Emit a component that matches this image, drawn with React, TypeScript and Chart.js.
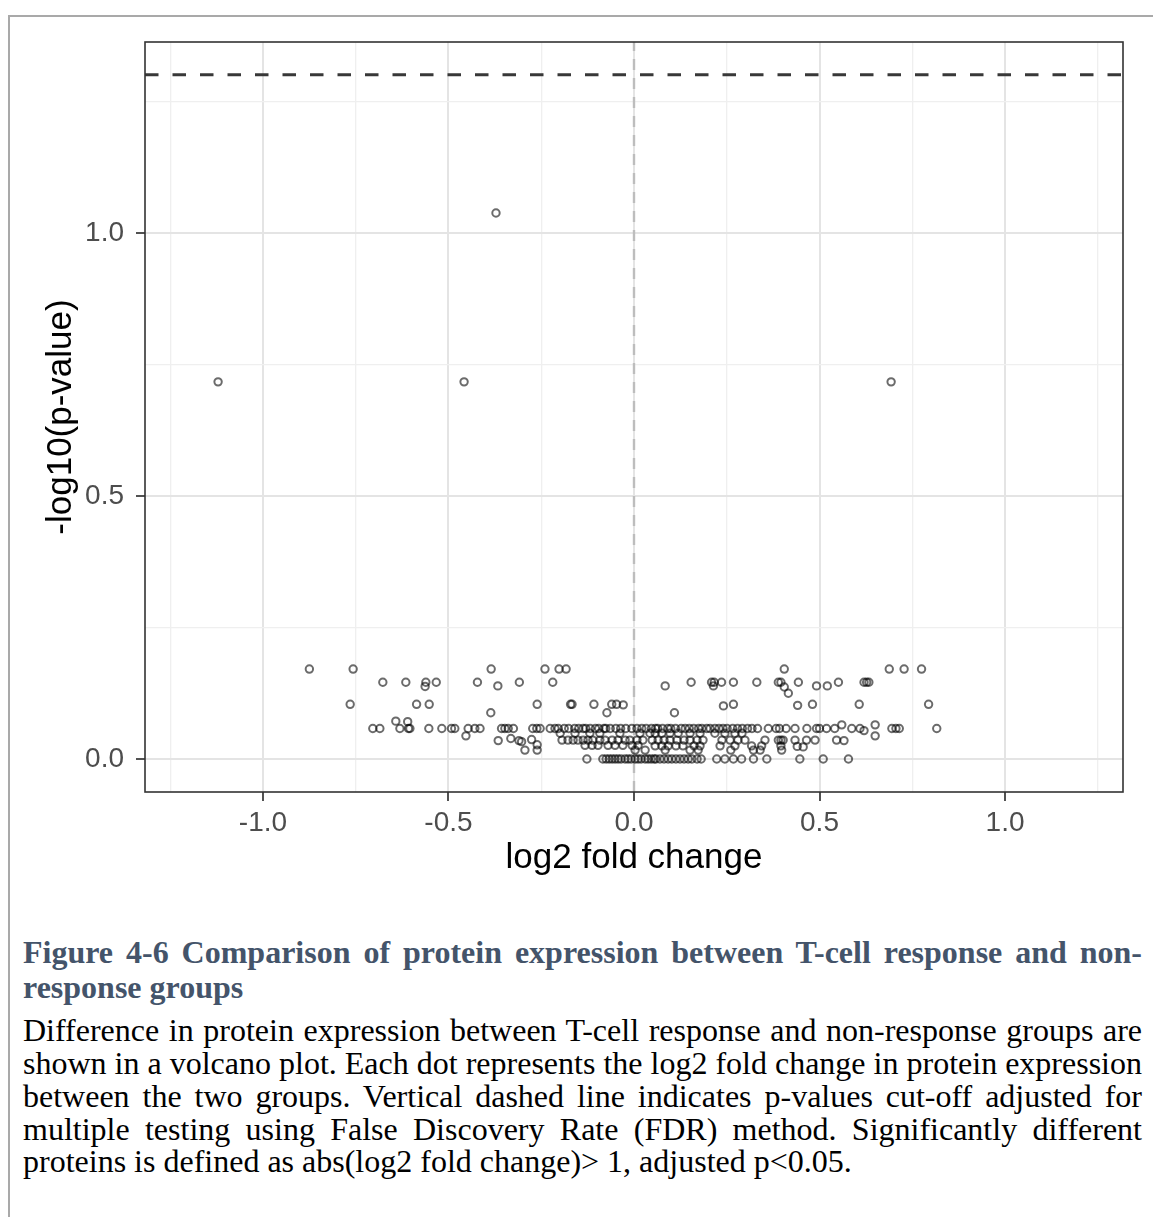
import React, { useEffect, useRef } from "react";
import { Chart, registerables } from "chart.js";

Chart.register(...registerables);

// Axis layout values
const xLimits = [-1.318, 1.318];
const yLimits = [-0.0627, 1.3631];
const xMajorTicks = [-1.0, -0.5, 0.0, 0.5, 1.0];
const xMinorTicks = [-1.25, -0.75, -0.25, 0.25, 0.75, 1.25];
const yMajorTicks = [0.0, 0.5, 1.0];
const yMinorTicks = [0.25, 0.75, 1.25];

// Reference lines: FDR cut-off (-log10 0.05) and zero fold change
const pValueCutoff = 1.301;
const zeroFoldChange = 0;

// Proteins: [log2 fold change, -log10(p-value)]
const outlierProteins: [number, number][] = [
  [-1.121, 0.717], [-0.458, 0.717], [-0.372, 1.038], [0.693, 0.717],
];

const upperTierProteins: [number, number][] = [
  [-0.875, 0.171], [-0.757, 0.171], [-0.385, 0.171], [-0.24, 0.171], [-0.202, 0.171],
  [-0.183, 0.171], [0.405, 0.171], [0.688, 0.171], [0.728, 0.171], [0.775, 0.171],
  [-0.677, 0.146], [-0.615, 0.146], [-0.561, 0.146], [-0.533, 0.146], [-0.422, 0.146],
  [-0.309, 0.146], [-0.219, 0.146], [0.154, 0.146], [0.209, 0.146], [0.216, 0.146],
  [0.236, 0.146], [0.268, 0.146], [0.331, 0.146], [0.389, 0.146], [0.396, 0.146],
  [0.443, 0.146], [0.551, 0.146], [0.62, 0.146], [0.627, 0.146], [0.633, 0.146],
  [-0.563, 0.138], [-0.367, 0.139], [0.084, 0.139], [0.214, 0.139], [0.405, 0.137],
  [0.492, 0.139], [0.521, 0.139], [0.416, 0.125],
];

const middleTierProteins: [number, number][] = [
  [-0.765, 0.104], [-0.586, 0.104], [-0.552, 0.104], [-0.261, 0.104], [-0.171, 0.104],
  [-0.167, 0.104], [-0.108, 0.104], [-0.06, 0.104], [-0.047, 0.104], [-0.029, 0.103],
  [0.241, 0.101], [0.268, 0.104], [0.441, 0.102], [0.481, 0.104], [0.607, 0.104],
  [0.794, 0.104], [-0.386, 0.088], [-0.073, 0.088], [0.109, 0.088],
  [-0.642, 0.072], [-0.61, 0.071], [0.56, 0.065], [0.65, 0.065], [0.62, 0.054],
];

const mainRowFoldChanges = [
  -0.704, -0.685, -0.631, -0.608, -0.604, -0.553, -0.518, -0.492, -0.483, -0.447,
  -0.429, -0.415, -0.357, -0.348, -0.339, -0.325, -0.273, -0.262, -0.253, -0.226,
  -0.213, -0.204, -0.188, -0.176, -0.16, -0.149, -0.137, -0.13, -0.118, -0.104,
  -0.095, -0.081, -0.076, -0.064, -0.049, -0.036, -0.022, -0.006, 0.008, 0.021,
  0.033, 0.047, 0.058, 0.064, 0.077, 0.091, 0.099, 0.112, 0.127, 0.138,
  0.149, 0.161, 0.174, 0.183, 0.196, 0.205, 0.218, 0.229, 0.24, 0.251,
  0.266, 0.279, 0.292, 0.306, 0.318, 0.333, 0.362, 0.383, 0.392, 0.41,
  0.434, 0.466, 0.492, 0.5, 0.519, 0.541, 0.587, 0.609, 0.695, 0.706,
  0.715, 0.816,
];
const mainRowPValue = 0.058;

const lowerTierProteins: [number, number][] = [
  [-0.199, 0.049], [-0.159, 0.049], [-0.119, 0.049], [-0.092, 0.049], [-0.038, 0.049],
  [0.016, 0.049], [0.043, 0.049], [0.057, 0.049], [0.075, 0.049], [0.097, 0.049],
  [0.119, 0.049], [0.151, 0.049], [0.178, 0.049], [0.218, 0.049], [0.245, 0.049],
  [0.272, 0.049], [0.291, 0.049], [-0.453, 0.044], [0.65, 0.044],
  [-0.366, 0.035], [-0.332, 0.039], [-0.31, 0.035], [-0.303, 0.033], [-0.276, 0.037],
  [-0.194, 0.036], [-0.178, 0.036], [-0.164, 0.036], [-0.151, 0.036], [-0.137, 0.036],
  [-0.124, 0.036], [-0.111, 0.036], [-0.092, 0.036], [-0.078, 0.036], [-0.059, 0.036],
  [-0.043, 0.036], [-0.024, 0.036], [-0.011, 0.036], [0.008, 0.036], [0.024, 0.036],
  [0.049, 0.036], [0.065, 0.036], [0.081, 0.036], [0.097, 0.036], [0.116, 0.036],
  [0.135, 0.036], [0.151, 0.036], [0.17, 0.036], [0.186, 0.036], [0.237, 0.036],
  [0.259, 0.036], [0.28, 0.036], [0.299, 0.036], [0.353, 0.036], [0.389, 0.036],
  [0.396, 0.036], [0.402, 0.036], [0.434, 0.036], [0.465, 0.036], [0.488, 0.036],
  [0.546, 0.036], [0.566, 0.035],
  [-0.261, 0.027], [-0.132, 0.026], [-0.113, 0.026], [-0.097, 0.026], [-0.07, 0.026],
  [-0.051, 0.026], [-0.03, 0.026], [-0.005, 0.026], [0.011, 0.026], [0.057, 0.025],
  [0.075, 0.025], [0.092, 0.025], [0.113, 0.025], [0.132, 0.025], [0.162, 0.025],
  [0.178, 0.025], [0.232, 0.025], [0.272, 0.025], [0.317, 0.025], [0.344, 0.025],
  [0.396, 0.025], [0.44, 0.024], [0.456, 0.023],
  [-0.294, 0.017], [-0.261, 0.017], [0.003, 0.017], [0.03, 0.017], [0.084, 0.017],
  [0.151, 0.017], [0.173, 0.017], [0.261, 0.017], [0.322, 0.017], [0.34, 0.017],
  [0.398, 0.017],
];

const zeroRowFoldChanges = [
  -0.127, -0.084, -0.075, -0.067, -0.059, -0.051, -0.043, -0.035, -0.024, -0.016,
  -0.008, 0.003, 0.011, 0.019, 0.03, 0.038, 0.046, 0.054, 0.059, 0.07,
  0.081, 0.092, 0.102, 0.113, 0.124, 0.135, 0.146, 0.156, 0.17, 0.181,
  0.223, 0.245, 0.268, 0.29, 0.322, 0.358, 0.447, 0.51, 0.578,
];
const zeroRowPValue = 0;

// Caption text
const captionTitleLines = [
  "Figure 4-6 Comparison of protein expression between T-cell response and non-",
  "response groups",
];
const captionBodyLines = [
  "Difference in protein expression between T-cell response and non-response groups are",
  "shown in a volcano plot. Each dot represents the log2 fold change in protein expression",
  "between the two groups. Vertical dashed line indicates p-values cut-off adjusted for",
  "multiple testing using False Discovery Rate (FDR) method. Significantly different",
  "proteins is defined as abs(log2 fold change)> 1, adjusted p<0.05.",
];

const AXIS_FONT = "'Liberation Sans', Arial, Helvetica, sans-serif";
const CAPTION_FONT = "'Liberation Serif', 'Times New Roman', serif";

const isMajor = (v: number, majors: number[]) =>
  majors.some((m) => Math.abs(m - v) < 1e-6);

const panelBorder = {
  id: "panelBorder",
  afterDatasetsDraw(chart: any) {
    const { ctx, chartArea } = chart;
    ctx.save();
    ctx.strokeStyle = "#333333";
    ctx.lineWidth = 1.6;
    ctx.strokeRect(
      chartArea.left,
      chartArea.top,
      chartArea.right - chartArea.left,
      chartArea.bottom - chartArea.top
    );
    ctx.restore();
  },
};

function VolcanoChart() {
  const canvasRef = useRef<HTMLCanvasElement | null>(null);

  useEffect(() => {
    if (!canvasRef.current) return;

    const points = [
      ...outlierProteins,
      ...upperTierProteins,
      ...middleTierProteins,
      ...mainRowFoldChanges.map((x) => [x, mainRowPValue] as [number, number]),
      ...lowerTierProteins,
      ...zeroRowFoldChanges.map((x) => [x, zeroRowPValue] as [number, number]),
    ].map(([x, y]) => ({ x, y }));

    const makeTicks = (majors: number[], minors: number[]) =>
      [...majors, ...minors].sort((a, b) => a - b).map((value) => ({ value }));

    const chart = new Chart(canvasRef.current, {
      type: "scatter",
      data: {
        datasets: [
          {
            data: points,
            pointStyle: "circle",
            pointRadius: 3.7,
            pointBorderWidth: 2,
            pointBorderColor: "rgba(0,0,0,0.58)",
            pointBackgroundColor: "rgba(0,0,0,0)",
            pointHoverRadius: 3.7,
          },
          {
            type: "line",
            data: [
              { x: xLimits[0], y: pValueCutoff },
              { x: xLimits[1], y: pValueCutoff },
            ],
            borderColor: "#383838",
            borderWidth: 3,
            borderDash: [13.5, 14],
            pointRadius: 0,
            fill: false,
          } as any,
          {
            type: "line",
            data: [
              { x: zeroFoldChange, y: yLimits[0] },
              { x: zeroFoldChange, y: yLimits[1] },
            ],
            borderColor: "#bdbdbd",
            borderWidth: 2.4,
            borderDash: [11, 8],
            pointRadius: 0,
            fill: false,
          } as any,
        ],
      },
      options: {
        responsive: false,
        animation: false,
        events: [],
        layout: { padding: { top: 25, right: 30, left: 0, bottom: 0 } },
        plugins: {
          legend: { display: false },
          tooltip: { enabled: false },
        },
        scales: {
          x: {
            type: "linear",
            min: xLimits[0],
            max: xLimits[1],
            afterBuildTicks: (scale: any) => {
              scale.ticks = makeTicks(xMajorTicks, xMinorTicks);
            },
            afterFit: (scale: any) => {
              scale.height = 105;
              scale.paddingLeft = 0;
              scale.paddingRight = 0;
            },
            border: { display: false },
            grid: {
              color: (c: any) => (isMajor(c.tick.value, xMajorTicks) ? "#e4e4e4" : "#efefef"),
              lineWidth: (c: any) => (isMajor(c.tick.value, xMajorTicks) ? 2 : 1.3),
              drawTicks: true,
              tickLength: 9,
              tickWidth: 1.7,
              tickColor: (c: any) =>
                isMajor(c.tick.value, xMajorTicks) ? "#333333" : "rgba(0,0,0,0)",
            },
            ticks: {
              autoSkip: false,
              maxRotation: 0,
              padding: 5,
              color: "#4d4d4d",
              font: { family: AXIS_FONT, size: 28 },
              callback: (v: any) => (isMajor(Number(v), xMajorTicks) ? Number(v).toFixed(1) : ""),
            },
            title: {
              display: true,
              text: "log2 fold change",
              color: "#000000",
              font: { family: AXIS_FONT, size: 35 },
              padding: { top: 0, bottom: 18 },
            },
          },
          y: {
            type: "linear",
            min: yLimits[0],
            max: yLimits[1],
            afterBuildTicks: (scale: any) => {
              scale.ticks = makeTicks(yMajorTicks, yMinorTicks);
            },
            afterFit: (scale: any) => {
              scale.width = 135;
              scale.paddingTop = 0;
              scale.paddingBottom = 0;
            },
            border: { display: false },
            grid: {
              color: (c: any) => (isMajor(c.tick.value, yMajorTicks) ? "#e4e4e4" : "#efefef"),
              lineWidth: (c: any) => (isMajor(c.tick.value, yMajorTicks) ? 2 : 1.3),
              drawTicks: true,
              tickLength: 9,
              tickWidth: 1.7,
              tickColor: (c: any) =>
                isMajor(c.tick.value, yMajorTicks) ? "#333333" : "rgba(0,0,0,0)",
            },
            ticks: {
              autoSkip: false,
              padding: 12,
              color: "#4d4d4d",
              font: { family: AXIS_FONT, size: 28 },
              callback: (v: any) => (isMajor(Number(v), yMajorTicks) ? Number(v).toFixed(1) : ""),
            },
            title: {
              display: true,
              text: "-log10(p-value)",
              color: "#000000",
              font: { family: AXIS_FONT, size: 35 },
              padding: { top: 30, bottom: 0 },
            },
          },
        },
      },
      plugins: [panelBorder],
    });

    return () => chart.destroy();
  }, []);

  return (
    <canvas
      ref={canvasRef}
      width={1143}
      height={880}
      style={{ position: "absolute", left: 10, top: 17, width: 1143, height: 880 }}
    />
  );
}

const lineStyle = (top: number, justify: boolean): React.CSSProperties => ({
  position: "absolute",
  left: 23,
  top,
  width: 1119,
  height: 33,
  lineHeight: "33px",
  whiteSpace: "nowrap",
  textAlign: justify ? "justify" : "left",
  textAlignLast: justify ? "justify" : "left",
});

export default function App() {
  const titleTops = [936, 971];
  const bodyTops = [1014, 1047, 1080, 1113, 1145];
  return (
    <div style={{ position: "fixed", inset: 0, background: "#ffffff", overflow: "hidden" }}>
      <div
        style={{
          position: "absolute",
          left: 8,
          top: 15,
          right: -20,
          bottom: -20,
          borderLeft: "2px solid #a9a9a9",
          borderTop: "2px solid #a9a9a9",
        }}
      />
      <VolcanoChart />
      <div style={{ fontFamily: CAPTION_FONT, fontSize: 32, color: "#44546a", fontWeight: "bold" }}>
        {captionTitleLines.map((t, i) => (
          <div key={t} style={lineStyle(titleTops[i], i < captionTitleLines.length - 1)}>
            {t}
          </div>
        ))}
      </div>
      <div style={{ fontFamily: CAPTION_FONT, fontSize: 32, color: "#000000" }}>
        {captionBodyLines.map((t, i) => (
          <div key={t} style={lineStyle(bodyTops[i], i < captionBodyLines.length - 1)}>
            {t}
          </div>
        ))}
      </div>
    </div>
  );
}
